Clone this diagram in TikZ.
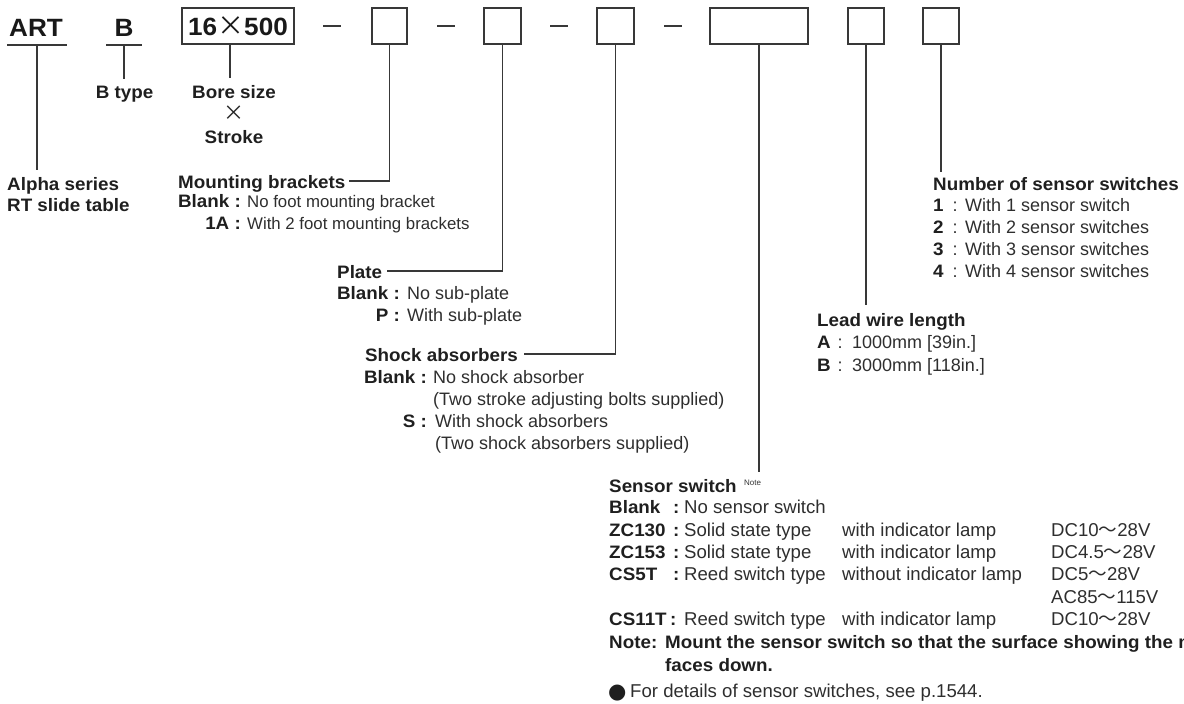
\documentclass[tikz,border=0pt]{standalone}
\usepackage{fontspec}
\setmainfont{Liberation Sans}[BoldFeatures={FakeStretch=1.045}]
\newfontfamily\cjkfont{Noto Sans CJK JP}
\newfontfamily\djvfont{DejaVu Sans}
\newcommand\wdash{{\cjkfont ～}}
\begin{document}
\begin{tikzpicture}[x=1pt,y=-1pt,
  hd/.style={anchor=base west, inner sep=0, font=\bfseries\fontsize{18}{20}\selectfont, text=black!88},
  hdc/.style={anchor=base, inner sep=0, font=\bfseries\fontsize{18}{20}\selectfont, text=black!88},
  tx/.style={anchor=base west, inner sep=0, font=\fontsize{18}{20}\selectfont, text=black!82},
  txl/.style={anchor=base west, inner sep=0, font=\fontsize{18.6}{20}\selectfont, text=black!82},
  txs/.style={anchor=base west, inner sep=0, font=\fontsize{16.8}{20}\selectfont, text=black!82},
  key/.style={anchor=base east, inner sep=0, font=\bfseries\fontsize{18}{20}\selectfont, text=black!88},
  colon/.style={anchor=base, inner sep=0, font=\fontsize{18}{20}\selectfont, text=black!82},
  big/.style={anchor=base, inner sep=0, font=\bfseries\fontsize{25}{28}\selectfont, text=black!90},
  slot/.style={draw=black!78, line width=1.3pt, inner sep=0, minimum height=36pt},
  wire/.style={draw=black!78, line width=1.2pt},
]
\useasboundingbox (0,0) rectangle (1184,704);

% ---------- top row ----------
\node[big] (art) at (36,36) {ART};
\coordinate (artL) at (7,45); \coordinate (artR) at (67,45); \coordinate (artM) at (37,45);
\draw[wire] (artL) -- (artR);
\node[big] (bt) at (124,36) {B};
\coordinate (btL) at (106,45); \coordinate (btR) at (142,45); \coordinate (btM) at (124,45);
\draw[wire] (btL) -- (btR);

\node[slot, minimum width=112pt, font=\bfseries\fontsize{25}{28}\selectfont, text=black!90] (s1) at (238,26) {16{\cjkfont\mdseries\fontsize{27}{28}\selectfont ×}500};
\node[slot, minimum width=35pt] (s2) at (389.5,26) {};
\node[slot, minimum width=37pt] (s3) at (502.5,26) {};
\node[slot, minimum width=37pt] (s4) at (615.5,26) {};
\node[slot, minimum width=98pt] (s5) at (759,26) {};
\node[slot, minimum width=36pt] (s6) at (866,26) {};
\node[slot, minimum width=36pt] (s7) at (941,26) {};

\coordinate (d1a) at (323,26); \coordinate (d1b) at (341,26);
\coordinate (d2a) at (437,26); \coordinate (d2b) at (455,26);
\coordinate (d3a) at (550,26); \coordinate (d3b) at (568,26);
\coordinate (d4a) at (664,26); \coordinate (d4b) at (682,26);
\draw[wire] (d1a) -- (d1b);
\draw[wire] (d2a) -- (d2b);
\draw[wire] (d3a) -- (d3b);
\draw[wire] (d4a) -- (d4b);

% ---------- series / type / size ----------
\coordinate (alphaT) at (37,170);
\draw[wire] (artM) -- (alphaT);
\node[hd] (alpha) at (7,190) {Alpha series};
\node[hd] (rt) at (7,211) {RT slide table};

\coordinate (btypeT) at (124,79);
\draw[wire] (btM) -- (btypeT);
\node[hdc] (btype) at (124.5,98) {B type};

\coordinate (s1m) at (230,44); \coordinate (boreT) at (230,78);
\draw[wire] (s1m) -- (boreT);
\node[hdc] (bore) at (234,98) {Bore size};
\node[inner sep=0, font=\cjkfont\fontsize{21}{22}\selectfont, text=black!85] (times) at (234,113) {×};
\node[hdc] (stroke) at (234,143) {Stroke};

% ---------- mounting brackets ----------
\node[hd] (mt) at (178,188) {Mounting brackets};
\draw[wire] (s2.south) |- ([xshift=3pt,yshift=7pt]mt.base east);
\node[key] (mtk1) at (241,207) {Blank :};
\node[txs] (mtt1) at (247,207) {No foot mounting bracket};
\node[key] (mtk2) at (241,229) {1A :};
\node[txs] (mtt2) at (247,229) {With 2 foot mounting brackets};

% ---------- plate ----------
\node[hd] (pl) at (337,278) {Plate};
\draw[wire] (s3.south) |- ([xshift=5pt,yshift=7pt]pl.base east);
\node[key] (plk1) at (400,299) {Blank :};
\node[tx] (plt1) at (407,299) {No sub-plate};
\node[key] (plk2) at (400,321) {P :};
\node[tx] (plt2) at (407,321) {With sub-plate};

% ---------- shock absorbers ----------
\node[hd] (sh) at (365,361) {Shock absorbers};
\draw[wire] (s4.south) |- ([xshift=6pt,yshift=7pt]sh.base east);
\node[key] (shk1) at (427,383) {Blank :};
\node[tx] (sht1) at (433,383) {No shock absorber};
\node[tx] (sht2) at (433,405) {(Two stroke adjusting bolts supplied)};
\node[key] (shk2) at (427,427) {S :};
\node[tx] (sht3) at (435,427) {With shock absorbers};
\node[tx] (sht4) at (435,449) {(Two shock absorbers supplied)};

% ---------- number of sensor switches ----------
\coordinate (nsT) at (941,172);
\draw[wire] (s7.south) -- (nsT);
\node[hd] (ns) at (933,190) {Number of sensor switches};
\node[hd] (n1) at (933,211) {1}; \node[colon] at (955,211) {:}; \node[tx] (n1t) at (965,211) {With 1 sensor switch};
\node[hd] (n2) at (933,233) {2}; \node[colon] at (955,233) {:}; \node[tx] (n2t) at (965,233) {With 2 sensor switches};
\node[hd] (n3) at (933,255) {3}; \node[colon] at (955,255) {:}; \node[tx] (n3t) at (965,255) {With 3 sensor switches};
\node[hd] (n4) at (933,277) {4}; \node[colon] at (955,277) {:}; \node[tx] (n4t) at (965,277) {With 4 sensor switches};

% ---------- lead wire length ----------
\coordinate (lwT) at (866,305);
\draw[wire] (s6.south) -- (lwT);
\node[hd] (lw) at (817,326) {Lead wire length};
\node[hd] (la) at (817,348) {A}; \node[colon] at (840,348) {:}; \node[tx] (lat) at (852,348) {1000mm [39in.]};
\node[hd] (lb) at (817,371) {B}; \node[colon] at (840,371) {:}; \node[tx] (lbt) at (852,371) {3000mm [118in.]};

% ---------- sensor switch ----------
\coordinate (ssT) at (759,472);
\draw[wire] (s5.south) -- (ssT);
\node[hd] (ss) at (609,492) {Sensor switch};
\node[anchor=base west, inner sep=0, font=\fontsize{8}{9}\selectfont, text=black!80] (ssnote) at (744,485) {Note};

\node[hd] (k1) at (609,513) {Blank}; \node[hd] at (673,513) {:};
\node[txl] at (684,513) {No sensor switch};

\node[hd] (k2) at (609,536) {ZC130}; \node[hd] at (673,536) {:};
\node[txl] at (684,536) {Solid state type}; \node[txl] at (842,536) {with indicator lamp}; \node[txl] at (1051,536) {DC10\wdash28V};

\node[hd] (k3) at (609,558) {ZC153}; \node[hd] at (673,558) {:};
\node[txl] at (684,558) {Solid state type}; \node[txl] at (842,558) {with indicator lamp}; \node[txl] at (1051,558) {DC4.5\wdash28V};

\node[hd] (k4) at (609,580) {CS5T}; \node[hd] at (673,580) {:};
\node[txl] at (684,580) {Reed switch type}; \node[txl] at (842,580) {without indicator lamp}; \node[txl] at (1051,580) {DC5\wdash28V};
\node[txl] at (1051,603) {AC85\wdash115V};

\node[hd] (k5) at (609,625) {CS11T}; \node[hd] at (670,625) {:};
\node[txl] at (684,625) {Reed switch type}; \node[txl] at (842,625) {with indicator lamp}; \node[txl] at (1051,625) {DC10\wdash28V};

\node[hd] (note) at (609,648) {Note:};
\node[hd] (note1) at (665,648) {Mount the sensor switch so that the surface showing the m};
\node[hd] (note2) at (665,671) {faces down.};
\node[anchor=base west, inner sep=0, font=\djvfont\fontsize{21}{22}\selectfont, text=black!88] (dot) at (608,698) {●};
\node[txl] (det) at (630,697) {For details of sensor switches, see p.1544.};
\end{tikzpicture}
\end{document}
